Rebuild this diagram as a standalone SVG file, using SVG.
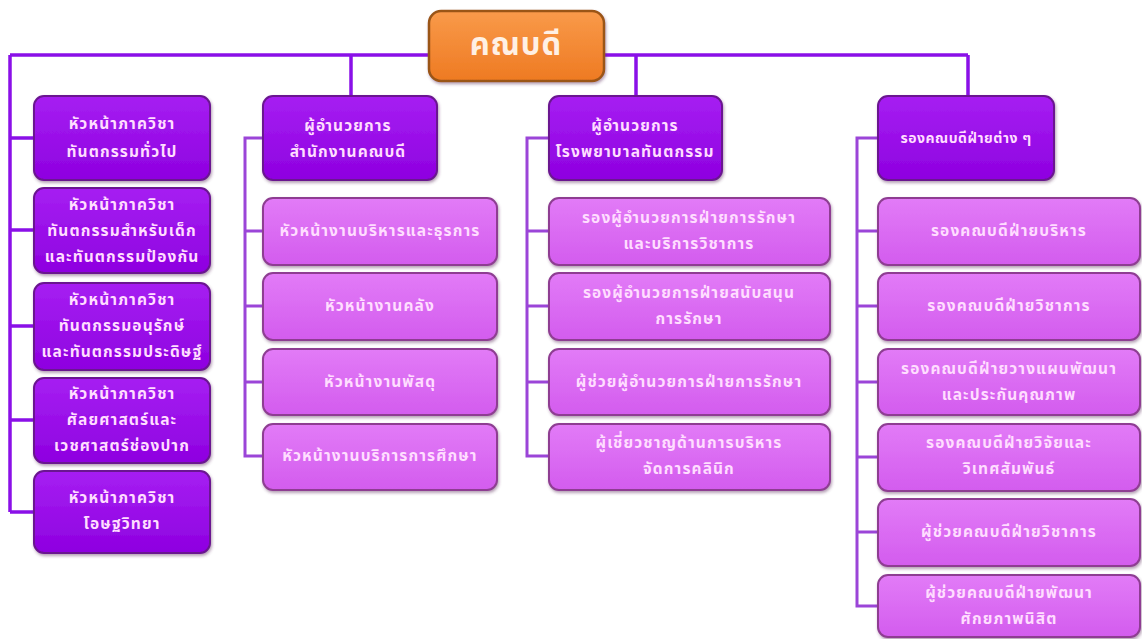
<svg xmlns="http://www.w3.org/2000/svg" width="1142" height="639" viewBox="0 0 1142 639">
<defs>
<linearGradient id="gOrange" x1="0" y1="0" x2="0" y2="1"><stop offset="0" stop-color="#F99A4A"/><stop offset="1" stop-color="#EE7A22"/></linearGradient>
<linearGradient id="gDark" x1="0" y1="0" x2="0" y2="1"><stop offset="0" stop-color="#A61FF2"/><stop offset="1" stop-color="#8E00E0"/></linearGradient>
<linearGradient id="gLight" x1="0" y1="0" x2="0" y2="1"><stop offset="0" stop-color="#E27BF7"/><stop offset="1" stop-color="#D35CEE"/></linearGradient>
<filter id="sh" x="-10%" y="-10%" width="125%" height="130%"><feDropShadow dx="1" dy="2" stdDeviation="1.5" flood-color="#5a2a5a" flood-opacity="0.45"/></filter>
</defs>
<style>
.bg{fill:#ffffff}
.conn{fill:none;stroke:#8A10E8;stroke-width:3.5}
.sub{fill:none;stroke:#9B45D8;stroke-width:3}
.top{fill:url(#gOrange);stroke:#9A5418;stroke-width:2.5;filter:url(#sh)}
.dark{fill:url(#gDark);stroke:#6A1490;stroke-width:2;filter:url(#sh)}
.light{fill:url(#gLight);stroke:#8E3E92;stroke-width:2;filter:url(#sh)}
text{font-family:"Noto Sans Thai","Noto Sans","DejaVu Sans","Liberation Sans",sans-serif;font-weight:bold;fill:#FFDDFF;text-anchor:middle;dominant-baseline:central}
.t{font-size:15.5px;letter-spacing:1.1px}
.s{font-size:14px;letter-spacing:0.5px}
.title{font-size:31px;fill:#FFF0E4;letter-spacing:1px}
</style>
<rect class="bg" x="0" y="0" width="1142" height="639"/>
<g id="connectors">
<path class="conn" d="M10,55 H968 M968,55 V96 M636,55 V96 M351,55 V96 M10,55 V512"/>
<path class="conn" d="M10,138 H34 M10,230 H34 M10,326 H34 M10,420 H34 M10,512 H34"/>
<path class="sub" d="M263,138 H245 V456 H263 M245,231 H263 M245,306 H263 M245,382 H263"/>
<path class="sub" d="M549,138 H527 V456 H549 M527,231 H549 M527,306 H549 M527,382 H549"/>
<path class="sub" d="M878,138 H857 V606 H878 M857,231 H878 M857,306 H878 M857,382 H878 M857,457 H878 M857,532 H878"/>
</g>
<g id="dean"><rect class="top" x="429" y="11" width="175" height="70" rx="12"/><text class="title" x="516" y="45">คณบดี</text></g>
<g id="col1-1"><rect class="dark" x="34" y="96" width="176" height="84" rx="10"/><text class="t" x="122" y="124">หัวหน้าภาควิชา</text><text class="t" x="122" y="152">ทันตกรรมทั่วไป</text></g>
<g id="col1-2"><rect class="dark" x="34" y="188" width="176" height="85" rx="10"/><text class="t" x="122" y="205">หัวหน้าภาควิชา</text><text class="t" x="122" y="231">ทันตกรรมสำหรับเด็ก</text><text class="t" x="122" y="257">และทันตกรรมป้องกัน</text></g>
<g id="col1-3"><rect class="dark" x="34" y="283" width="176" height="87" rx="10"/><text class="t" x="122" y="300">หัวหน้าภาควิชา</text><text class="t" x="122" y="326">ทันตกรรมอนุรักษ์</text><text class="t" x="122" y="352">และทันตกรรมประดิษฐ์</text></g>
<g id="col1-4"><rect class="dark" x="34" y="378" width="176" height="85" rx="10"/><text class="t" x="122" y="394">หัวหน้าภาควิชา</text><text class="t" x="122" y="420">ศัลยศาสตร์และ</text><text class="t" x="122" y="446">เวชศาสตร์ช่องปาก</text></g>
<g id="col1-5"><rect class="dark" x="34" y="471" width="176" height="82" rx="10"/><text class="t" x="122" y="498">หัวหน้าภาควิชา</text><text class="t" x="122" y="524">โอษฐวิทยา</text></g>
<g id="col2-head"><rect class="dark" x="263" y="96" width="174" height="84" rx="10"/><text class="t" x="348" y="126">ผู้อำนวยการ</text><text class="t" x="348" y="152">สำนักงานคณบดี</text></g>
<g id="col2-1"><rect class="light" x="263" y="198" width="234" height="67" rx="10"/><text class="t" x="380" y="231">หัวหน้างานบริหารและธุรการ</text></g>
<g id="col2-2"><rect class="light" x="263" y="273" width="234" height="67" rx="10"/><text class="t" x="380" y="306">หัวหน้างานคลัง</text></g>
<g id="col2-3"><rect class="light" x="263" y="349" width="234" height="66" rx="10"/><text class="t" x="380" y="382">หัวหน้างานพัสดุ</text></g>
<g id="col2-4"><rect class="light" x="263" y="424" width="234" height="66" rx="10"/><text class="t" x="380" y="456">หัวหน้างานบริการการศึกษา</text></g>
<g id="col3-head"><rect class="dark" x="549" y="96" width="173" height="84" rx="10"/><text class="t" x="635" y="126">ผู้อำนวยการ</text><text class="t" x="635" y="152">โรงพยาบาลทันตกรรม</text></g>
<g id="col3-1"><rect class="light" x="549" y="198" width="281" height="67" rx="10"/><text class="t" x="689" y="218">รองผู้อำนวยการฝ่ายการรักษา</text><text class="t" x="689" y="244">และบริการวิชาการ</text></g>
<g id="col3-2"><rect class="light" x="549" y="273" width="281" height="67" rx="10"/><text class="t" x="689" y="293">รองผู้อำนวยการฝ่ายสนับสนุน</text><text class="t" x="689" y="319">การรักษา</text></g>
<g id="col3-3"><rect class="light" x="549" y="349" width="281" height="66" rx="10"/><text class="t" x="689" y="382">ผู้ช่วยผู้อำนวยการฝ่ายการรักษา</text></g>
<g id="col3-4"><rect class="light" x="549" y="424" width="281" height="66" rx="10"/><text class="t" x="689" y="443">ผู้เชี่ยวชาญด้านการบริหาร</text><text class="t" x="689" y="469">จัดการคลินิก</text></g>
<g id="col4-head"><rect class="dark" x="878" y="96" width="176" height="84" rx="10"/><text class="s" x="966" y="138">รองคณบดีฝ่ายต่าง ๆ</text></g>
<g id="col4-1"><rect class="light" x="878" y="198" width="262" height="67" rx="10"/><text class="t" x="1009" y="231">รองคณบดีฝ่ายบริหาร</text></g>
<g id="col4-2"><rect class="light" x="878" y="273" width="262" height="67" rx="10"/><text class="t" x="1009" y="306">รองคณบดีฝ่ายวิชาการ</text></g>
<g id="col4-3"><rect class="light" x="878" y="349" width="262" height="66" rx="10"/><text class="t" x="1009" y="369">รองคณบดีฝ่ายวางแผนพัฒนา</text><text class="t" x="1009" y="395">และประกันคุณภาพ</text></g>
<g id="col4-4"><rect class="light" x="878" y="424" width="262" height="67" rx="10"/><text class="t" x="1009" y="443">รองคณบดีฝ่ายวิจัยและ</text><text class="t" x="1009" y="469">วิเทศสัมพันธ์</text></g>
<g id="col4-5"><rect class="light" x="878" y="499" width="262" height="67" rx="10"/><text class="t" x="1009" y="532">ผู้ช่วยคณบดีฝ่ายวิชาการ</text></g>
<g id="col4-6"><rect class="light" x="878" y="575" width="262" height="62" rx="10"/><text class="t" x="1009" y="593">ผู้ช่วยคณบดีฝ่ายพัฒนา</text><text class="t" x="1009" y="619">ศักยภาพนิสิต</text></g>
</svg>
